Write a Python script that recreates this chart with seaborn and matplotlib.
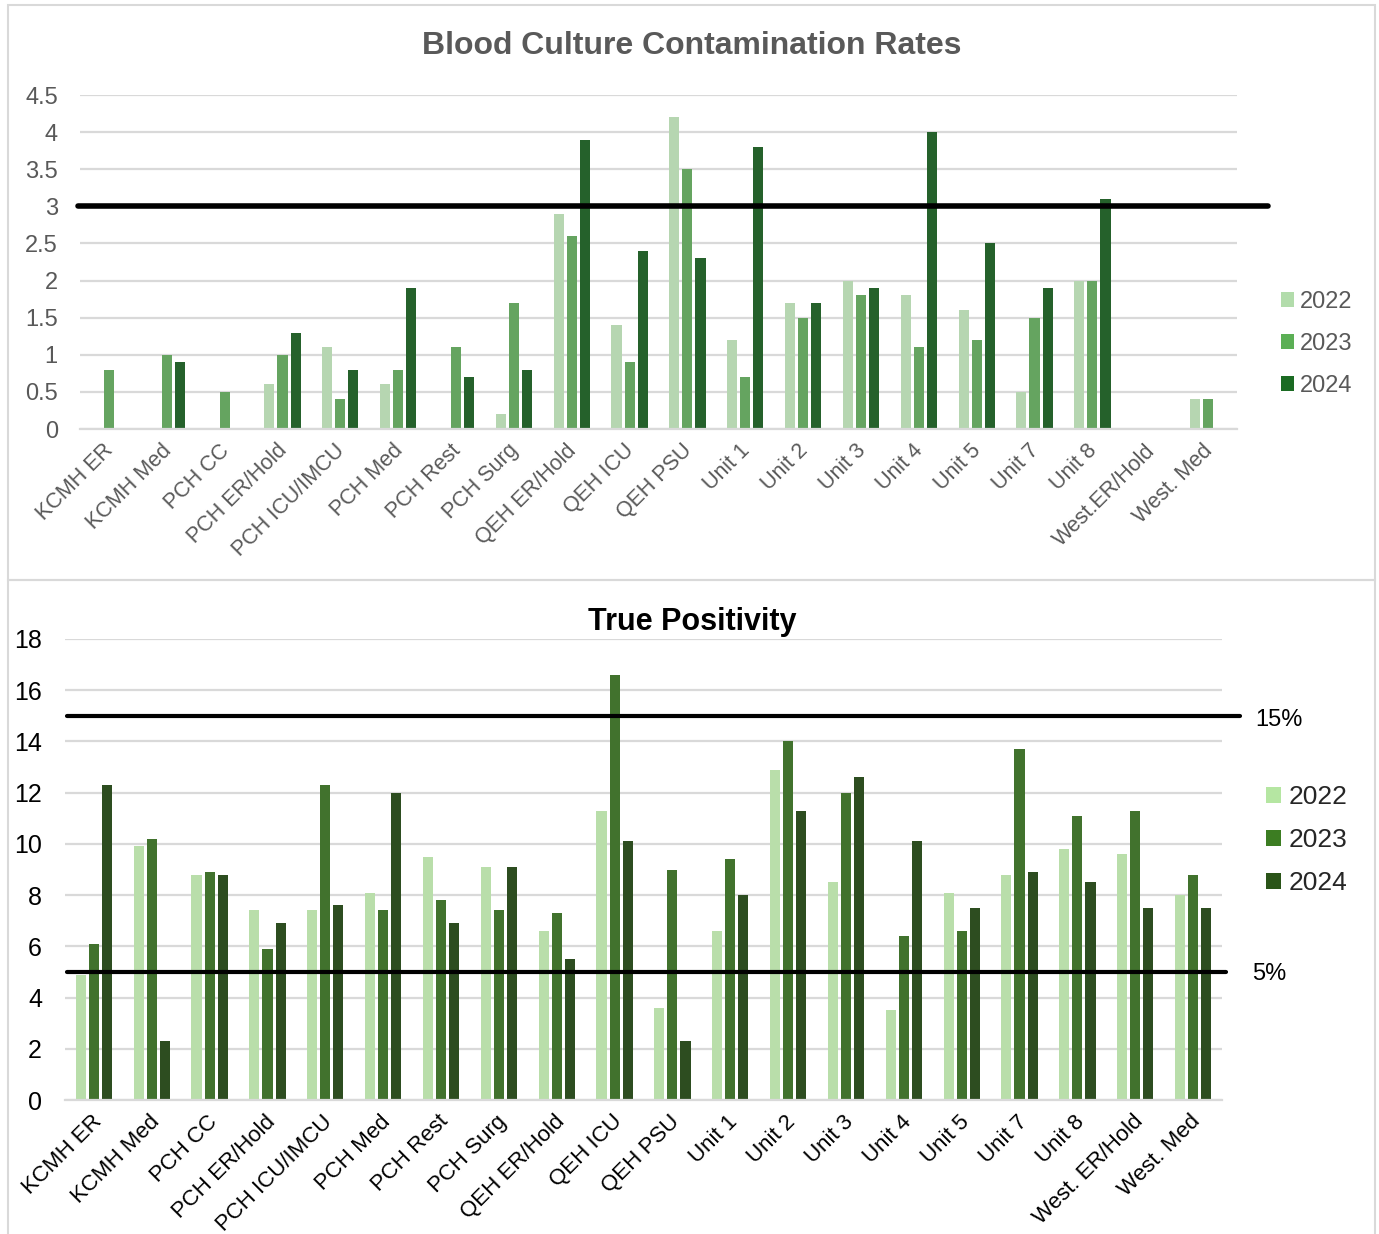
import matplotlib
matplotlib.use("Agg")
import matplotlib.pyplot as plt
import matplotlib.transforms as mtransforms
import seaborn as sns
import pandas as pd
from matplotlib.patches import Rectangle, Patch

sns.set_theme(style="white")
plt.rcParams['font.family'] = ['Liberation Sans', 'DejaVu Sans']

units = ["KCMH ER", "KCMH Med", "PCH CC", "PCH ER/Hold", "PCH ICU/IMCU", "PCH Med",
         "PCH Rest", "PCH Surg", "QEH ER/Hold", "QEH ICU", "QEH PSU", "Unit 1",
         "Unit 2", "Unit 3", "Unit 4", "Unit 5", "Unit 7", "Unit 8",
         "West.ER/Hold", "West. Med"]
units_bottom = ["KCMH ER", "KCMH Med", "PCH CC", "PCH ER/Hold", "PCH ICU/IMCU", "PCH Med",
                "PCH Rest", "PCH Surg", "QEH ER/Hold", "QEH ICU", "QEH PSU", "Unit 1",
                "Unit 2", "Unit 3", "Unit 4", "Unit 5", "Unit 7", "Unit 8",
                "West. ER/Hold", "West. Med"]
years = ["2022", "2023", "2024"]

contam_2022 = [0, 0, 0, 0.6, 1.1, 0.6, 0, 0.2, 2.9, 1.4, 4.2, 1.2, 1.7, 2.0, 1.8, 1.6, 0.5, 2.0, 0, 0.4]
contam_2023 = [0.8, 1.0, 0.5, 1.0, 0.4, 0.8, 1.1, 1.7, 2.6, 0.9, 3.5, 0.7, 1.5, 1.8, 1.1, 1.2, 1.5, 2.0, 0, 0.4]
contam_2024 = [0, 0.9, 0, 1.3, 0.8, 1.9, 0.7, 0.8, 3.9, 2.4, 2.3, 3.8, 1.7, 1.9, 4.0, 2.5, 1.9, 3.1, 0, 0]
contam_target = 3

tp_2022 = [4.9, 9.9, 8.8, 7.4, 7.4, 8.1, 9.5, 9.1, 6.6, 11.3, 3.6, 6.6, 12.9, 8.5, 3.5, 8.1, 8.8, 9.8, 9.6, 8.0]
tp_2023 = [6.1, 10.2, 8.9, 5.9, 12.3, 7.4, 7.8, 7.4, 7.3, 16.6, 9.0, 9.4, 14.0, 12.0, 6.4, 6.6, 13.7, 11.1, 11.3, 8.8]
tp_2024 = [12.3, 2.3, 8.8, 6.9, 7.6, 12.0, 6.9, 9.1, 5.5, 10.1, 2.3, 8.0, 11.3, 12.6, 10.1, 7.5, 8.9, 8.5, 7.5, 7.5]
tp_upper = 15
tp_lower = 5

top_colors = ["#b2dcab", "#5baf55", "#1b6b23"]
bot_colors = ["#b5e6a2", "#3c7d22", "#2a5418"]

def long_df(cats, series):
    rows = []
    for y, vals in zip(years, series):
        for c, v in zip(cats, vals):
            rows.append({"Unit": c, "Year": y, "Value": v})
    return pd.DataFrame(rows)

df_top = long_df(units, [contam_2022, contam_2023, contam_2024])
df_bot = long_df(units_bottom, [tp_2022, tp_2023, tp_2024])

W, H = 1379, 1234
fig = plt.figure(figsize=(W / 100, H / 100), dpi=100)

# panel borders
fig.patches.append(Rectangle((8 / W, 1 - 580 / H), (1375 - 8) / W, (580 - 5) / H,
                             transform=fig.transFigure, fill=False, edgecolor="#d9d9d9", lw=1.5))
fig.patches.append(Rectangle((8 / W, -0.01), (1375 - 8) / W, 1 - 580 / H + 0.01,
                             transform=fig.transFigure, fill=False, edgecolor="#d9d9d9", lw=1.5))

def frac_box(x0, x1, ytop, ybot):
    return [x0 / W, 1 - ybot / H, (x1 - x0) / W, (ybot - ytop) / H]

ax1 = fig.add_axes(frac_box(80, 1237, 95, 429))
ax2 = fig.add_axes(frac_box(65, 1222, 639, 1100))

def style(ax, df, colors, ylim, yticks, txtcolor, xfs, yfs, ypad, dx):
    sns.barplot(data=df, x="Unit", y="Value", hue="Year", palette=colors, ax=ax,
                width=0.68, gap=0.23, linewidth=0, legend=False, errorbar=None)
    ax.set_ylim(*ylim)
    ax.set_yticks(yticks)
    ax.set_yticklabels([f"{t:g}" for t in yticks], fontsize=yfs, color=txtcolor)
    ax.set_xlim(-0.5, len(units) - 0.5)
    ax.set_xlabel("")
    ax.set_ylabel("")
    ax.grid(axis="y", color="#d9d9d9", lw=1.6)
    ax.set_axisbelow(True)
    for s in ["top", "right", "left"]:
        ax.spines[s].set_visible(False)
    ax.spines["bottom"].set_color("#d9d9d9")
    ax.spines["bottom"].set_linewidth(1.6)
    ax.tick_params(axis="both", length=0)
    ax.tick_params(axis="y", pad=ypad)
    ax.tick_params(axis="x", pad=8)
    offset = mtransforms.ScaledTranslation(dx / 100, 0, fig.dpi_scale_trans)
    for lab in ax.get_xticklabels():
        lab.set_rotation(45)
        lab.set_ha("right")
        lab.set_rotation_mode("anchor")
        lab.set_fontsize(xfs)
        lab.set_color(txtcolor)
        lab.set_transform(lab.get_transform() + offset)

style(ax1, df_top, top_colors, (0, 4.5), [0, 0.5, 1, 1.5, 2, 2.5, 3, 3.5, 4, 4.5], "#595959", 15.5, 17, 16, -6)
style(ax2, df_bot, bot_colors, (0, 18), list(range(0, 19, 2)), "black", 16, 18, 16.5, -3)

# threshold lines
ax1.axhline(contam_target, xmin=-0.002, xmax=(1268 - 80) / 1157, color="black", lw=4, clip_on=False, zorder=5)
ax2.axhline(tp_upper, xmin=0.002, xmax=(1240 - 65) / 1157, color="black", lw=3, clip_on=False, zorder=5)
ax2.axhline(tp_lower, xmin=0.002, xmax=(1226 - 65) / 1157, color="black", lw=3, clip_on=False, zorder=5)
ax2.text((1255 - 65) / 1157, tp_upper - 0.15, "15%", transform=ax2.get_yaxis_transform(),
         va="center", ha="left", fontsize=17, color="black")
ax2.text((1252 - 65) / 1157, tp_lower - 0.08, "5%", transform=ax2.get_yaxis_transform(),
         va="center", ha="left", fontsize=17, color="black")

# titles
fig.text(692 / W, 1 - 46 / H, "Blood Culture Contamination Rates", ha="center", va="center",
         fontsize=23, fontweight="bold", color="#595959")
fig.text(692 / W, 1 - 622 / H, "True Positivity", ha="center", va="center",
         fontsize=22, fontweight="bold", color="black")

# legends
h1 = [Patch(facecolor=c, edgecolor="none") for c in top_colors]
leg1 = ax1.legend(h1, years, loc="center left", bbox_to_anchor=(1.03, 0.255), frameon=False,
                  fontsize=17, handlelength=0.55, handleheight=0.55, handletextpad=0.25,
                  labelspacing=0.85, borderaxespad=0)
for t in leg1.get_texts():
    t.set_color("#595959")
h2 = [Patch(facecolor=c, edgecolor="none") for c in bot_colors]
leg2 = ax2.legend(h2, years, loc="center left", bbox_to_anchor=(1.029, 0.564), frameon=False,
                  fontsize=19, handlelength=0.55, handleheight=0.55, handletextpad=0.3,
                  labelspacing=0.72, borderaxespad=0)

fig.savefig("out.png", dpi=100)
